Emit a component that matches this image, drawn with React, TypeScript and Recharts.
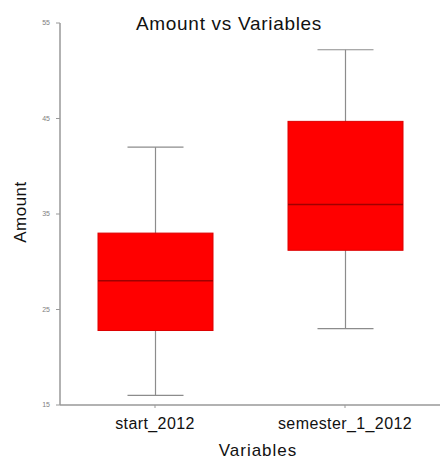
import React from 'react';
import { ComposedChart, Bar, XAxis, YAxis } from 'recharts';

const categories = ['start_2012', 'semester_1_2012'];
const minValues = [16, 23];
const q1Values = [22.8, 31.2];
const medianValues = [28, 36];
const q3Values = [33, 44.7];
const maxValues = [42, 52.2];
const yTicks = [15, 25, 35, 45, 55];

const data = categories.map((name, i) => ({
  name,
  min: minValues[i],
  q1: q1Values[i],
  median: medianValues[i],
  q3: q3Values[i],
  max: maxValues[i],
}));

const BoxShape = (props: any) => {
  const { x, y, width, height, payload } = props;
  const { min, q1, median, q3, max } = payload;
  const ppu = height / (max - min);
  const toY = (v: number) => y + (max - v) * ppu;
  const cx = x + width / 2;
  const capHalf = 28;
  const yQ3 = toY(q3);
  const yQ1 = toY(q1);
  const yMed = toY(median);
  return (
    <g>
      <line x1={cx} x2={cx} y1={y} y2={y + height} stroke="#8c8c8c" strokeWidth={1.2} />
      <line x1={cx - capHalf} x2={cx + capHalf} y1={y} y2={y} stroke="#8c8c8c" strokeWidth={1.2} />
      <line x1={cx - capHalf} x2={cx + capHalf} y1={y + height} y2={y + height} stroke="#8c8c8c" strokeWidth={1.2} />
      <rect x={x} y={yQ3} width={width} height={yQ1 - yQ3} fill="#ff0000" stroke="#dd0000" strokeWidth={1} />
      <line x1={x} x2={x + width} y1={yMed} y2={yMed} stroke="#a00000" strokeWidth={1.5} />
    </g>
  );
};

export default function App() {
  const font = '"Liberation Sans", Arial, sans-serif';
  return (
    <div style={{ position: 'absolute', left: 0, top: 0, width: 440, height: 459, background: '#fff', fontFamily: font, overflow: 'hidden' }}>
      <ComposedChart
        width={440}
        height={459}
        data={data}
        margin={{ top: 23, right: 0, bottom: 24, left: 0 }}
        style={{ fontFamily: font }}
      >
        <XAxis
          dataKey="name"
          height={30}
          tickSize={3}
          tickMargin={10}
          stroke="#999"
          tick={{ fontSize: 16, fill: '#111', letterSpacing: 0.4 }}
          axisLine={{ stroke: '#999', strokeWidth: 1.5 }}
          tickLine={{ stroke: '#999' }}
        />
        <YAxis
          type="number"
          domain={[15, 55]}
          ticks={yTicks}
          width={60}
          tickSize={4}
          tickMargin={6}
          interval={0}
          tick={{ fontSize: 7, fill: '#808080' }}
          axisLine={{ stroke: '#999', strokeWidth: 1.5 }}
          tickLine={{ stroke: '#999' }}
        />
        <Bar
          dataKey={(d: any) => [d.min, d.max]}
          barSize={115}
          shape={BoxShape}
          isAnimationActive={false}
        />
      </ComposedChart>
      <div style={{ position: 'absolute', left: 229, top: 14, transform: 'translateX(-50%)', fontSize: 19, lineHeight: '19px', letterSpacing: 0.7, whiteSpace: 'nowrap', color: '#111' }}>
        Amount vs Variables
      </div>
      <div style={{ position: 'absolute', left: 258, top: 442, transform: 'translateX(-50%)', fontSize: 17, lineHeight: '17px', letterSpacing: 1, whiteSpace: 'nowrap', color: '#111' }}>
        Variables
      </div>
      <div style={{ position: 'absolute', left: 20, top: 212, transform: 'translate(-50%, -50%) rotate(-90deg)', fontSize: 17, lineHeight: '17px', letterSpacing: 0.5, whiteSpace: 'nowrap', color: '#111' }}>
        Amount
      </div>
    </div>
  );
}
